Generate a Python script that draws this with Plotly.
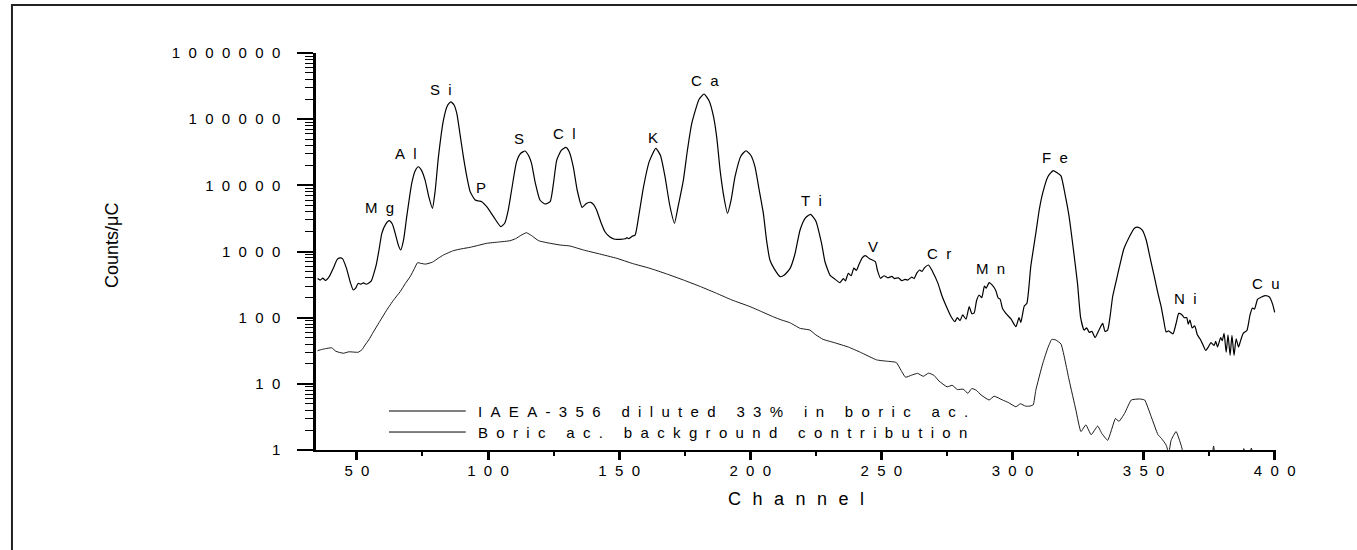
import numpy as np
import plotly.graph_objects as go

# ---------------- data ----------------
sample_channel = [35, 36, 37, 38, 39.5, 41, 42.5, 43.5, 44.5, 46, 47.5, 48.6, 49.5, 50.5, 51.5, 52.5, 53.5, 54.4,
                  55.5, 56.5, 57.5, 58.5, 59.5, 61, 62.3, 63.5, 64.6, 65.8, 66.7, 67.8, 69, 70.9, 72.2, 73.4,
                  74.6, 76, 77.5, 78.8, 79.8, 81.1, 83, 84.5, 85.8, 87, 88.1, 89.3, 90.6, 92, 93.2, 95.1, 96.5,
                  97.6, 99.5, 102.1, 104.9, 106.4, 107.7, 109, 110.9, 112.5, 114.1, 115.5, 116.6, 118, 119.8,
                  121.7, 123.7, 125, 126.2, 128, 129.7, 131, 132.5, 134, 135.9, 137.5, 139.2, 140.3, 141.4, 143,
                  144.6, 146.5, 148.4, 150.5, 152.4, 153, 153.6, 155, 156.1, 157.5, 159.3, 161.5, 164, 165.8,
                  167.5, 169.3, 171.1, 172.5, 174.5, 176, 177.7, 180.5, 182.4, 184.3, 186, 187.3, 188.5, 190,
                  191.3, 192.7, 194.2, 196.5, 198.4, 200.2, 201.8, 203.3, 205, 206.2, 207.5, 209, 211.4, 213,
                  215.2, 217, 219, 221, 223, 225, 227.2, 228.5, 230.4, 232, 234.2, 235.5, 236.3, 237.4, 238.5,
                  239.5, 240.5, 241.5, 242.7, 243.9, 245.5, 247.7, 248.5, 249.7, 251, 252.5, 254, 255, 256.5,
                  257.8, 259, 260, 261.6, 262.5, 263.5, 264.6, 265.5, 266.5, 268, 269.5, 271.6, 273, 274.8, 276.5,
                  278, 279, 280, 281, 282.3, 283.5, 284.5, 285.4, 286.3, 287.3, 288.3, 289.3, 290, 291.1, 292.3,
                  293.6, 294.5, 295.3, 296.2, 298, 299.5, 301.3, 302.5, 303.2, 303.8, 304.5, 305.5, 307, 308.9,
                  310.2, 311.5, 313.5, 315.5, 317, 318.5, 320, 321.6, 323.2, 324.8, 326, 327.3, 328.3, 329.3,
                  330.3, 331.5, 333, 334.4, 335.3, 336.3, 337.3, 338.2, 339.5, 340.8, 342.5, 344.6, 346.5, 348,
                  349.5, 351, 352.5, 354.1, 355.5, 356.7, 357.7, 358.6, 359.5, 361.2, 362.5, 363.4, 364.5, 365.5,
                  366.5, 367, 367.7, 368.5, 369.5, 370.5, 371.5, 372.5, 373.7, 374.7, 375.7, 376.9, 377.5, 378.2,
                  379.4, 380, 380.7, 381.5, 382.2, 383, 383.7, 384.5, 385.3, 386.2, 387, 388, 389.4, 390.6, 391.5,
                  392.3, 393.5, 395, 396.5, 398, 399.2, 400]
sample_counts = [390, 370, 395, 365, 420, 560, 760, 800, 780, 560, 340, 262, 280, 331, 320, 335, 320, 331,
                 360, 470, 663, 1100, 1884, 2600, 2920, 2600, 1884, 1250, 1053, 1500, 3360, 10700, 16500, 19100,
                 17000, 12000, 6500, 4500, 8000, 27100, 97000, 160000, 183000, 165000, 122000, 60000, 27100, 13000,
                 8000, 6000, 5800, 5660, 4750, 3360, 2370, 2700, 4200, 8500, 22800, 30500, 33000, 28000, 21500,
                 11000, 6000, 5220, 5660, 11000, 24100, 34000, 37500, 32000, 19200, 8500, 4650, 5300, 5540, 5100,
                 4240, 2800, 1990, 1650, 1530, 1530, 1560, 1620, 1560, 1700, 1775, 3500, 9500, 23000, 36300, 28000,
                 13500, 5000, 2670, 4800, 12000, 33000, 86500, 200000, 240000, 190000, 109000, 50000, 17000, 6500,
                 3780, 6000, 13500, 28000, 33300, 28500, 19200, 9000, 3780, 1500, 743, 560, 416, 440,
                 556, 900, 2113, 3200, 3640, 2900, 1330, 700, 441, 390, 338, 390, 360, 468, 430,
                 560, 520, 640, 800, 865, 780, 702, 520, 393, 430, 400, 420, 390, 400,
                 362, 380, 370, 410, 390, 470, 525, 500, 570, 625, 500, 330, 220, 147, 105,
                 87, 100, 90, 110, 95, 147, 115, 118, 180, 220, 200, 300, 280, 338, 310,
                 260, 200, 190, 138, 110, 95, 73, 100, 85, 110, 150, 165, 600, 1880,
                 4240, 7570, 13500, 16700, 15500, 13900, 7500, 3360, 1100, 330, 100, 65, 70, 60,
                 62, 50, 65, 82, 62, 65, 110, 207, 350, 590, 1100, 1675, 2250, 2320,
                 2100, 1490, 800, 416, 230, 147, 90, 61, 63, 57, 85, 116, 112, 100,
                 100, 80, 92, 70, 75, 55, 48, 40, 32, 36, 42, 38, 44, 36,
                 50, 45, 58, 30, 55, 27, 54, 27, 48, 36, 45, 58, 64, 110, 140,
                 135, 190, 205, 215, 205, 160, 120]

background_channel = [35, 36.5, 38, 40.4, 42, 44.8, 47, 50.5, 52, 53.1, 54.5, 56.3, 58.5, 61.4, 64, 66.5, 68.5,
                      70.3, 72, 73.1, 74.5, 76.2, 78.8, 81, 83, 86.8, 90, 93.2, 96, 99.5, 104, 108.4, 110.5, 112.5,
                      114.6, 116.5, 119.3, 123.7, 127.5, 131.3, 136.4, 142, 149.1, 155, 161.8, 168, 174.5, 181,
                      187.2, 193, 199.9, 204, 208.8, 212, 215.1, 219, 222.7, 225, 227.8, 232, 237.4, 242, 248.2,
                      252, 255.7, 257.5, 259.2, 261.5, 263.8, 266, 268, 270, 272, 275.1, 277, 279, 281.2, 283,
                      284.5, 286.2, 288, 291.1, 293, 296.2, 298.5, 301.3, 303, 305, 306.4, 307.9, 308.9, 311.5,
                      313.5, 315, 316.5, 318.5, 321.6, 324.2, 326.1, 328, 330, 332.5, 334, 336.3, 339.3, 340.6,
                      342.8, 345.3, 348.5, 350.4, 352.9, 355.5, 356.8, 358.6, 359.6, 360.5, 362.4, 364.4, 365.5,
                      367, 368, 376, 376.7, 377.5, 387.5, 388.2, 389, 390.5, 391.1, 391.7, 400]
background_counts = [31.7, 33, 34, 35, 31, 29, 30.5, 30, 33, 38.6, 46, 61, 85, 131, 185, 247, 330,
                     416, 560, 677, 660, 645, 690, 790, 885, 1030, 1100, 1157, 1230, 1330, 1390, 1455, 1560, 1750,
                     1923, 1750, 1455, 1330, 1253, 1210, 1053, 930, 789, 660, 556, 460, 371, 295,
                     233, 185, 147, 125, 103, 92, 84, 69, 65, 55, 47, 42, 36, 30, 23,
                     22, 21, 16, 12.6, 13.5, 14.4, 13, 14.5, 13.5, 11, 9, 9.5, 8.2, 8.3, 7.2,
                     8.5, 8, 6.8, 5.7, 6.5, 5.7, 5.2, 4.5, 5, 4.6, 4.6, 4.8, 8, 20,
                     35, 47, 46, 40, 11.4, 4, 1.9, 2.4, 1.7, 2.3, 1.8, 1.4, 3.0, 2.7,
                     3.6, 5.7, 5.9, 5.7, 3.2, 1.7, 1.5, 1.19, 0.9, 1.4, 1.9, 1.15, 0.8,
                     0.7, 0.6, 0.8, 1.15, 0.8, 0.8, 1.05, 0.9, 0.9, 1.07, 0.9, 0.7]

element_names = ["Mg", "Al", "Si", "P", "S", "Cl", "K", "Ca", "Ti", "V", "Cr", "Mn", "Fe", "Ni", "Cu"]
element_channel = [58.8, 68.8, 82.1, 97.4, 111.9, 129.1, 163, 182.9, 223.3, 247, 271.8, 291.7, 316.4, 366.1, 396.6]
element_counts = [4700, 30800, 285700, 9120, 51900, 61800, 53700, 377500, 5800, 1210, 949, 544, 25900, 198, 334]

x_tick_values = [50, 100, 150, 200, 250, 300, 350, 400]
x_minor_values = [75, 125, 175, 225, 275, 325, 375]
y_tick_values = [1, 10, 100, 1000, 10000, 100000, 1000000]
y_minor_values = [k * 10 ** d for d in range(6) for k in range(2, 10)]

legend_labels = ["IAEA-356 diluted 33% in boric ac.", "Boric ac. background contribution"]
x_title = "Channel"
y_title = "Counts/μC"

# ---------------- helpers ----------------
NB = "\u00a0"


def spaced(s, joiner=NB + NB):
    return joiner.join(NB if ch == " " else ch for ch in s)


FONT = "Liberation Sans, Arial, Helvetica, sans-serif"

fig = go.Figure()
fig.add_trace(go.Scatter(x=sample_channel, y=sample_counts, mode="lines",
                         line=dict(color="black", width=1.2, shape="spline", smoothing=0.5),
                         showlegend=False, hoverinfo="skip"))
fig.add_trace(go.Scatter(x=background_channel, y=background_counts, mode="lines",
                         line=dict(color="black", width=0.9, shape="spline", smoothing=0.4),
                         showlegend=False, hoverinfo="skip"))

annotations = []
for name, cx, cy in zip(element_names, element_channel, element_counts):
    annotations.append(dict(x=cx, y=np.log10(cy), xref="x", yref="y", text=spaced(name),
                            showarrow=False, font=dict(family=FONT, size=15, color="black"),
                            xanchor="center", yanchor="middle"))

# axis titles
annotations.append(dict(x=0.5, y=-0.124, xref="paper", yref="paper",
                        text=spaced(x_title, NB + NB + "\u200a"), showarrow=False,
                        font=dict(family=FONT, size=18, color="black"),
                        xanchor="center", yanchor="middle"))
annotations.append(dict(x=-0.2125, y=0.514, xref="paper", yref="paper", text=y_title,
                        textangle=-90, showarrow=False,
                        font=dict(family=FONT, size=18, color="black"),
                        xanchor="center", yanchor="middle"))

# legend (drawn manually to match the original layout)
legend_y = [0.0982, 0.0453]
shapes = []
for lab, ly in zip(legend_labels, legend_y):
    shapes.append(dict(type="line", xref="paper", yref="paper", x0=0.076, x1=0.156, y0=ly, y1=ly,
                       line=dict(color="black", width=1)))
    annotations.append(dict(x=0.1667, y=ly, xref="paper", yref="paper", text=spaced(lab),
                            showarrow=False, font=dict(family=FONT, size=15, color="black"),
                            xanchor="left", yanchor="middle"))

# outer frame (extends past the right/bottom edges of the picture)
shapes.append(dict(type="rect", xref="paper", yref="paper", x0=-0.3167, x1=1.3, y0=-0.4, y1=1.1209,
                   line=dict(color="#222222", width=2), fillcolor="rgba(0,0,0,0)", layer="below"))

fig.update_layout(
    width=1357, height=550,
    margin=dict(l=316, r=81, t=53, b=100, pad=0),
    paper_bgcolor="white", plot_bgcolor="white",
    font=dict(family=FONT, size=15, color="black"),
    showlegend=False,
    annotations=annotations,
    shapes=shapes,
    xaxis=dict(range=[34.4, 400.5], showgrid=False, zeroline=False,
               showline=True, linecolor="black", linewidth=2,
               ticks="outside", ticklen=8, tickwidth=2.5, tickcolor="black",
               tickmode="array", tickvals=x_tick_values,
               ticktext=[spaced(str(v)) for v in x_tick_values],
               tickfont=dict(family=FONT, size=15, color="black"),
               ticklabelstandoff=-2,
               minor=dict(tickmode="array", tickvals=x_minor_values, ticks="outside",
                          ticklen=4, tickwidth=2, tickcolor="black", showgrid=False)),
    yaxis=dict(type="log", range=[0, 6], showgrid=False, zeroline=False,
               showline=True, linecolor="black", linewidth=2.5,
               ticks="outside", ticklen=16, tickwidth=2, tickcolor="black",
               tickmode="array", tickvals=y_tick_values,
               ticktext=[spaced(str(v)) for v in y_tick_values],
               tickfont=dict(family=FONT, size=15, color="black"),
               ticklabelstandoff=14,
               minor=dict(tickmode="array", tickvals=y_minor_values, ticks="outside",
                          ticklen=8, tickwidth=1.3, tickcolor="black", showgrid=False)),
)

fig.write_html("out.html")
